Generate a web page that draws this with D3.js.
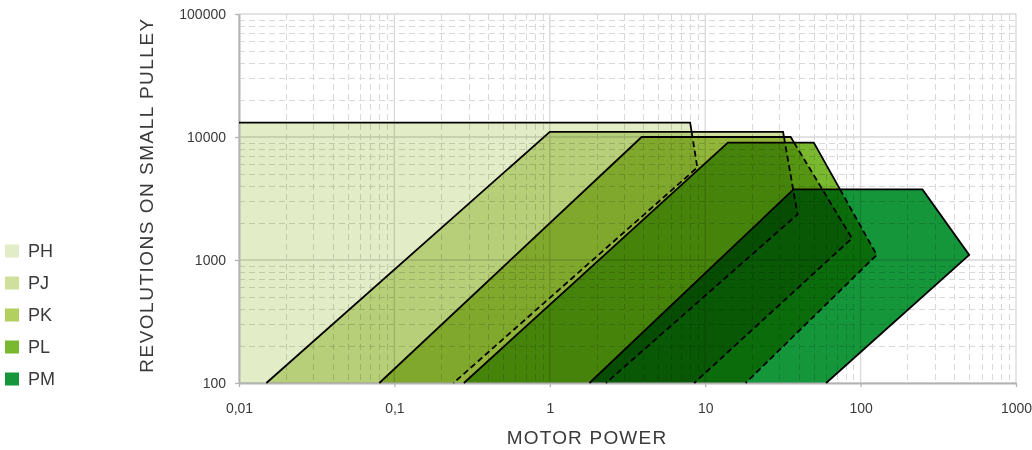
<!DOCTYPE html>
<html><head><meta charset="utf-8">
<script src="https://cdn.jsdelivr.net/npm/d3@7"></script>
<style>
html,body{margin:0;padding:0;background:#fff;}
svg{display:block;font-family:"Liberation Sans",Arial,sans-serif;}
</style></head><body>
<svg id="chart" width="1032" height="450"></svg>
<script>
// ---------- data ----------
const categories = ["PH", "PJ", "PK", "PL", "PM"];
// vertices [motor power kW, rpm]: bottom-left, top-left, top-right, right corner, bottom-right
const PH = [[0.01, 100], [0.01, 13100], [8, 13100], [8.9, 5650], [0.24, 100]];
const PJ = [[0.015, 100], [1, 11000], [31.7, 11000], [39.3, 2350], [2.3, 100]];
const PK = [[0.08, 100], [3.9, 10000], [35.5, 10000], [88, 1500], [8.5, 100]];
const PL = [[0.28, 100], [14, 9000], [50, 9000], [127, 1100], [18.2, 100]];
const PM = [[1.8, 100], [37, 3750], [250, 3750], [500, 1100], [60, 100]];
const series = [PH, PJ, PK, PL, PM];
const xTickValues = [0.01, 0.1, 1, 10, 100, 1000];
const xTickLabels = ["0,01", "0,1", "1", "10", "100", "1000"];
const yTickValues = [100, 1000, 10000, 100000];
const yTickLabels = ["100", "1000", "10000", "100000"];
const xTitle = "MOTOR POWER";
const yTitle = "REVOLUTIONS ON SMALL PULLEY";

// ---------- style ----------
const colors = ["#e2ecc6", "#cfe09c", "#b3cf5e", "#7ab830", "#15963a"];
const textColor = "#3a3a3a";

const svg = d3.select("#chart");
svg.append("rect").attr("width", 1032).attr("height", 450).attr("fill", "#fff");

const x = d3.scaleLog().domain([0.01, 1000]).range([239, 1016]);
const y = d3.scaleLog().domain([100, 100000]).range([383, 14]);

// minor grid values
const minorX = [], minorY = [];
for (let k = -2; k < 3; k++) for (let m = 2; m <= 9; m++) minorX.push(m * Math.pow(10, k));
for (let k = 2; k < 5; k++) for (let m = 2; m <= 9; m++) minorY.push(m * Math.pow(10, k));

const grid = svg.append("g");
grid.selectAll(".mx").data(minorX).join("line")
  .attr("x1", d => Math.round(x(d)) + 0.5).attr("x2", d => Math.round(x(d)) + 0.5)
  .attr("y1", y.range()[1]).attr("y2", y.range()[0])
  .attr("stroke", "#d9d9d9").attr("stroke-width", 1).attr("stroke-dasharray", "6,4");
grid.selectAll(".my").data(minorY).join("line")
  .attr("y1", d => Math.round(y(d)) + 0.5).attr("y2", d => Math.round(y(d)) + 0.5)
  .attr("x1", x.range()[0]).attr("x2", x.range()[1])
  .attr("stroke", "#d9d9d9").attr("stroke-width", 1).attr("stroke-dasharray", "6,4");
grid.selectAll(".Mx").data(xTickValues).join("line")
  .attr("x1", d => x(d)).attr("x2", d => x(d))
  .attr("y1", y.range()[1]).attr("y2", y.range()[0])
  .attr("stroke", "#d9d9d9").attr("stroke-width", 1.3);
grid.selectAll(".My").data(yTickValues).join("line")
  .attr("y1", d => y(d)).attr("y2", d => y(d))
  .attr("x1", x.range()[0]).attr("x2", x.range()[1])
  .attr("stroke", "#d9d9d9").attr("stroke-width", 1.3);

// polygons (multiply blended)
const line = d3.line().x(d => x(d[0])).y(d => y(d[1]));
svg.append("g").selectAll("path").data(series).join("path")
  .attr("d", d => line(d) + "Z")
  .attr("fill", (d, i) => colors[i])
  .style("mix-blend-mode", "multiply");

// axes
const yAxis = d3.axisLeft(y).tickValues(yTickValues).tickFormat((d, i) => yTickLabels[i])
  .tickSize(4).tickSizeOuter(0).tickPadding(9);
const xAxis = d3.axisBottom(x).tickValues(xTickValues).tickFormat((d, i) => xTickLabels[i])
  .tickSize(4).tickSizeOuter(0).tickPadding(16);
const gy = svg.append("g").attr("transform", "translate(239,0)").call(yAxis);
const gx = svg.append("g").attr("transform", "translate(0,383)").call(xAxis);
[gx, gy].forEach(g => {
  g.select(".domain").attr("stroke", "#b3b3b3").attr("stroke-width", 2);
  g.selectAll(".tick line").attr("stroke", "#b3b3b3").attr("stroke-width", 1.3);
  g.selectAll(".tick text").attr("fill", textColor).style("font-size", "14px")
    .style("font-family", "'Liberation Sans', Arial, sans-serif");
});

// outlines: visible parts solid, parts hidden under the next profile dashed
function logLerp(a, b, t) { return Math.exp(Math.log(a) + t * (Math.log(b) - Math.log(a))); }
const outlines = svg.append("g").attr("fill", "none").attr("stroke", "#000").attr("stroke-width", 1.8);
series.forEach((p, i) => {
  const start = (p[0][0] === p[1][0] && p[0][0] === x.domain()[0]) ? 1 : 0;
  if (i < series.length - 1) {
    const nextTop = series[i + 1][1][1];
    const a = p[2], b = p[3];
    const t = (Math.log(a[1]) - Math.log(nextTop)) / (Math.log(a[1]) - Math.log(b[1]));
    const br = [logLerp(a[0], b[0], t), nextTop];
    outlines.append("path").attr("d", line(p.slice(start, 3).concat([br])));
    outlines.append("path").attr("d", line([br, p[3], p[4]]))
      .attr("stroke-dasharray", "6,3.5").attr("stroke-linejoin", "round");
  } else {
    outlines.append("path").attr("d", line(p.slice(start)));
  }
});

// axis titles
svg.append("text").attr("x", 587).attr("y", 437).attr("text-anchor", "middle")
  .attr("dominant-baseline", "central").attr("fill", textColor)
  .style("font-size", "19px").style("letter-spacing", "1.2px").text(xTitle);
svg.append("text").attr("transform", "translate(146,195) rotate(-90)").attr("text-anchor", "middle")
  .attr("dominant-baseline", "central").attr("fill", textColor)
  .style("font-size", "19px").style("letter-spacing", "1.5px").text(yTitle);

// legend
const leg = svg.append("g");
categories.forEach((c, i) => {
  const cy = 251 + i * 32;
  leg.append("rect").attr("x", 5).attr("y", cy - 6.5).attr("width", 14).attr("height", 13).attr("fill", colors[i]);
  leg.append("text").attr("x", 28).attr("y", cy).attr("dominant-baseline", "central")
    .attr("fill", textColor).style("font-size", "18px").text(c);
});
</script>
</body></html>
